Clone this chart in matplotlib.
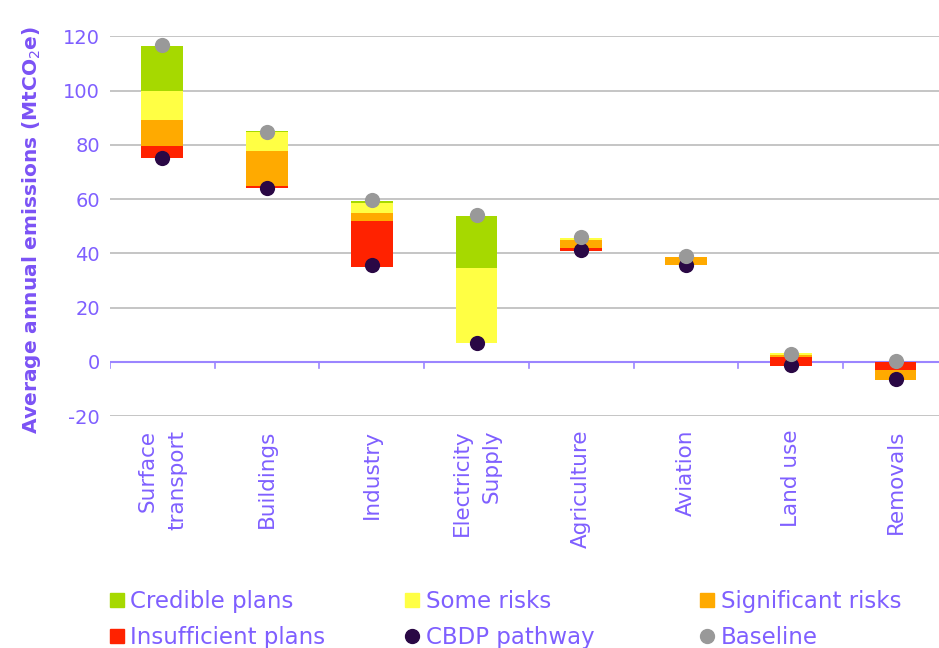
import matplotlib.pyplot as plt
from matplotlib.lines import Line2D
import numpy as np

# Data (MtCO2e)
categories = ['Surface\ntransport', 'Buildings', 'Industry', 'Electricity\nSupply',
              'Agriculture', 'Aviation', 'Land use', 'Removals']
base = [75.1, 63.9, 35.1, 6.9, 41.0, 35.7, -1.4, 0.0]
insufficient = [4.4, 1.0, 16.9, 0.0, 1.0, 0.0, 3.1, -2.9]
significant = [9.7, 12.9, 3.0, 0.0, 2.9, 2.9, 0.9, -3.7]
some_risks = [10.5, 6.8, 3.6, 27.6, 0.6, 0.0, 0.6, 0.0]
credible = [16.6, 0.4, 0.5, 19.4, 0.0, 0.0, 0.0, 0.0]
cbdp = [75.3, 64.2, 35.5, 7.1, 41.2, 35.7, -1.2, -6.4]
baseline = [116.9, 84.6, 59.5, 54.1, 45.9, 38.9, 2.9, 0.1]

txt = '#7F5FFF'
seg_colors = ['#FF2200', '#FFAA00', '#FFFF44', '#A6D900']
segments = [insufficient, significant, some_risks, credible]

plt.rcParams['font.family'] = ['DejaVu Sans']
plt.rcParams['axes.unicode_minus'] = False

fig = plt.figure(figsize=(9.39, 6.48), dpi=100)
ax = fig.add_axes([0.117, 0.358, 0.8925, 0.586])

x = np.arange(len(categories))
width = 0.40

pos = np.array(base, dtype=float)
neg = np.array(base, dtype=float)
for vals, col in zip(segments, seg_colors):
    vals = np.array(vals)
    bottoms = np.where(vals >= 0, pos, neg)
    ax.bar(x, vals, width, bottom=bottoms, color=col, linewidth=0, zorder=2)
    pos = np.where(vals >= 0, pos + vals, pos)
    neg = np.where(vals < 0, neg + vals, neg)

ax.scatter(x, cbdp, s=120, color='#2A0845', zorder=4, linewidths=0)
ax.scatter(x, baseline, s=120, color='#999999', zorder=5, linewidths=0)

ax.set_xlim(-0.5, len(categories) - 0.5)
ax.set_ylim(-20, 120)
ax.set_yticks(np.arange(-20, 121, 20))
ax.yaxis.grid(True, color='#BBBBBB', linewidth=1.2, zorder=0)
ax.set_axisbelow(True)
for s in ax.spines.values():
    s.set_visible(False)
ax.tick_params(axis='y', length=0, pad=7, labelsize=14, labelcolor=txt)

# zero line with category tick marks
ax.axhline(0, color='#9B85FF', linewidth=1.5, zorder=1)
for t in np.arange(len(categories)) - 0.5:
    ax.plot([t, t], [0, -2.4], color='#9B85FF', linewidth=1.2, zorder=1)
ax.set_xticks([])

for xi, name in zip(x, categories):
    ax.text(xi, -25, name, rotation=90, ha='center', va='top', ma='right',
            fontsize=15.5, color=txt, linespacing=1.6)

ax.set_ylabel('Average annual emissions (MtCO$_2$e)', fontsize=14.5, fontweight='bold',
              color='#7B52F5')
ax.yaxis.set_label_coords(-0.08, 0.49)

# legend, one column at a time so each column sits where it should
handles = [
    [Line2D([], [], marker='s', ls='', color=seg_colors[3], markersize=10, label='Credible plans'),
     Line2D([], [], marker='s', ls='', color=seg_colors[0], markersize=10, label='Insufficient plans')],
    [Line2D([], [], marker='s', ls='', color=seg_colors[2], markersize=10, label='Some risks'),
     Line2D([], [], marker='o', ls='', color='#2A0845', markersize=10, label='CBDP pathway')],
    [Line2D([], [], marker='s', ls='', color=seg_colors[1], markersize=10, label='Significant risks'),
     Line2D([], [], marker='o', ls='', color='#999999', markersize=10, label='Baseline')],
]
for hs, x0 in zip(handles, [0.095, 0.41, 0.724]):
    leg = fig.legend(handles=hs, loc='lower left', bbox_to_anchor=(x0, -0.034),
                     frameon=False, fontsize=16.5, handlelength=0.6, handletextpad=0.3,
                     labelspacing=0.6)
    for t in leg.get_texts():
        t.set_color(txt)

fig.savefig('out.png', dpi=100)
